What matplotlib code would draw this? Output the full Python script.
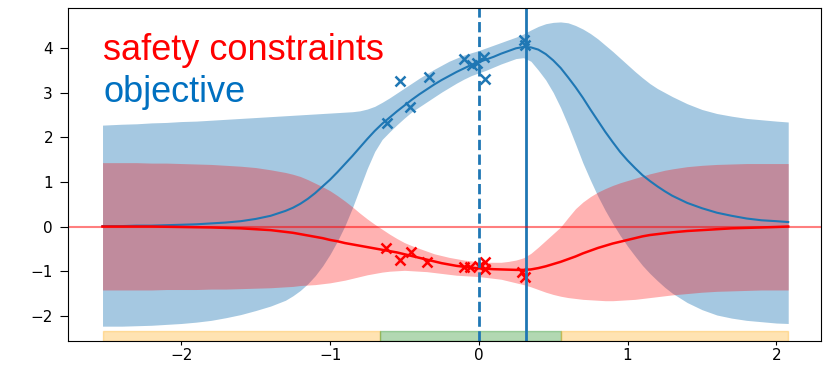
import matplotlib.pyplot as plt

# grid where the GP posteriors were evaluated
x = [-2.53, -2.4, -2.3, -2.2, -2.1, -2.0, -1.9, -1.8, -1.7, -1.6, -1.5, -1.4,
     -1.3, -1.25, -1.2, -1.15, -1.1, -1.05, -1.0, -0.95, -0.9, -0.85,
     -0.8, -0.75, -0.7, -0.65, -0.6, -0.55, -0.5, -0.45, -0.4, -0.35,
     -0.3, -0.25, -0.2, -0.15, -0.1, -0.05, 0.0, 0.05, 0.1, 0.15,
     0.2, 0.25, 0.3, 0.35, 0.4, 0.45, 0.5, 0.55, 0.6, 0.65,
     0.7, 0.75, 0.8, 0.85, 0.9, 0.95, 1.0, 1.05, 1.1, 1.15,
     1.2, 1.25, 1.3, 1.4, 1.5, 1.6, 1.7, 1.8, 1.9, 2.0, 2.08]

# objective posterior (mean and confidence bounds)
obj_mean = [0.01, 0.01, 0.02, 0.02, 0.03, 0.04, 0.05, 0.07, 0.09, 0.12, 0.17, 0.24,
            0.35, 0.42, 0.51, 0.62, 0.75, 0.90, 1.05, 1.22, 1.40, 1.58,
            1.77, 1.96, 2.14, 2.30, 2.44, 2.58, 2.71, 2.84, 2.96, 3.07,
            3.18, 3.28, 3.37, 3.46, 3.54, 3.62, 3.68, 3.74, 3.80, 3.87,
            3.93, 3.99, 4.02, 4.01, 3.96, 3.86, 3.72, 3.55, 3.34, 3.12,
            2.88, 2.62, 2.37, 2.12, 1.89, 1.67, 1.48, 1.31, 1.15, 1.02,
            0.90, 0.79, 0.69, 0.53, 0.41, 0.31, 0.24, 0.18, 0.14, 0.12, 0.10]
obj_upper = [2.27, 2.29, 2.30, 2.32, 2.33, 2.35, 2.36, 2.38, 2.40, 2.42, 2.44, 2.46,
             2.48, 2.49, 2.50, 2.51, 2.52, 2.53, 2.54, 2.55, 2.56, 2.57,
             2.59, 2.63, 2.69, 2.78, 2.88, 2.99, 3.10, 3.21, 3.32, 3.42,
             3.52, 3.61, 3.70, 3.77, 3.84, 3.89, 3.94, 4.00, 4.06, 4.12,
             4.18, 4.24, 4.31, 4.40, 4.48, 4.54, 4.57, 4.58, 4.56, 4.50,
             4.42, 4.32, 4.20, 4.06, 3.92, 3.77, 3.62, 3.47, 3.33, 3.20,
             3.09, 3.00, 2.91, 2.75, 2.62, 2.53, 2.47, 2.42, 2.39, 2.36, 2.34]
obj_lower = [-2.23, -2.23, -2.22, -2.21, -2.19, -2.17, -2.14, -2.10, -2.04, -1.97, -1.88, -1.78,
             -1.65, -1.55, -1.43, -1.28, -1.10, -0.88, -0.62, -0.32, 0.02, 0.42,
             0.86, 1.30, 1.68, 1.95, 2.12, 2.28, 2.43, 2.57, 2.68, 2.79,
             2.90, 3.01, 3.11, 3.21, 3.30, 3.38, 3.44, 3.50, 3.57, 3.64,
             3.70, 3.76, 3.78, 3.70, 3.50, 3.28, 3.00, 2.66, 2.27, 1.85,
             1.42, 1.04, 0.68, 0.36, 0.07, -0.20, -0.44, -0.66, -0.87, -1.05,
             -1.21, -1.36, -1.49, -1.70, -1.86, -1.98, -2.05, -2.10, -2.13, -2.16, -2.17]

# safety constraint posterior
con_mean = [0.0, 0.0, 0.0, 0.0, -0.005, -0.01, -0.015, -0.02, -0.03, -0.04, -0.06, -0.08,
            -0.12, -0.14, -0.17, -0.20, -0.23, -0.26, -0.30, -0.33, -0.37, -0.40,
            -0.43, -0.46, -0.49, -0.52, -0.55, -0.58, -0.62, -0.66, -0.70, -0.74,
            -0.78, -0.82, -0.85, -0.88, -0.90, -0.92, -0.935, -0.945, -0.955, -0.96,
            -0.965, -0.97, -0.97, -0.96, -0.93, -0.89, -0.84, -0.79, -0.73, -0.67,
            -0.60, -0.54, -0.48, -0.43, -0.38, -0.34, -0.30, -0.26, -0.22, -0.19,
            -0.17, -0.15, -0.13, -0.10, -0.08, -0.06, -0.04, -0.03, -0.02, -0.01, 0.0]
con_upper = [1.43, 1.43, 1.43, 1.42, 1.42, 1.41, 1.40, 1.39, 1.37, 1.35, 1.32, 1.27,
             1.21, 1.17, 1.12, 1.05, 0.97, 0.89, 0.80, 0.69, 0.57, 0.44,
             0.30, 0.17, 0.05, -0.06, -0.17, -0.27, -0.36, -0.43, -0.49, -0.55,
             -0.61, -0.65, -0.69, -0.72, -0.75, -0.77, -0.79, -0.80, -0.80, -0.80,
             -0.78, -0.75, -0.70, -0.60, -0.46, -0.31, -0.16, -0.01, 0.20, 0.40,
             0.55, 0.67, 0.77, 0.85, 0.92, 0.98, 1.03, 1.08, 1.13, 1.18,
             1.22, 1.26, 1.29, 1.34, 1.37, 1.39, 1.40, 1.41, 1.41, 1.41, 1.41]
con_lower = [-1.42, -1.42, -1.42, -1.42, -1.41, -1.41, -1.41, -1.40, -1.40, -1.39, -1.38, -1.37,
             -1.35, -1.34, -1.32, -1.31, -1.30, -1.28, -1.26, -1.23, -1.20, -1.16,
             -1.12, -1.08, -1.05, -1.02, -1.00, -0.99, -0.98, -0.99, -1.00, -1.01,
             -1.03, -1.05, -1.07, -1.09, -1.10, -1.11, -1.12, -1.14, -1.16, -1.18,
             -1.22, -1.26, -1.30, -1.35, -1.41, -1.47, -1.52, -1.56, -1.59, -1.61,
             -1.63, -1.64, -1.65, -1.66, -1.66, -1.65, -1.64, -1.63, -1.61, -1.59,
             -1.57, -1.55, -1.53, -1.50, -1.47, -1.45, -1.44, -1.43, -1.42, -1.42, -1.42]

# evaluated points
obj_x = [-0.617, -0.528, -0.46, -0.337, -0.102, -0.046, -0.012, 0.037, 0.044, 0.301, 0.31]
obj_y = [2.31, 3.26, 2.67, 3.34, 3.76, 3.61, 3.66, 3.80, 3.31, 4.17, 4.06]
con_x = [-0.622, -0.532, -0.454, -0.348, -0.102, -0.057, 0.0, 0.044, 0.044, 0.29, 0.31]
con_y = [-0.47, -0.75, -0.58, -0.80, -0.91, -0.91, -0.88, -0.79, -0.94, -1.01, -1.12]

x_current = 0.0    # last sample
x_best = 0.317     # best safe point
safe_lo, safe_hi = -0.667, 0.553   # estimated safe set

ylim = (-2.555, 4.89)
bar_top = -2.34

fig = plt.figure(figsize=(8.36, 3.67), dpi=100)
ax = fig.add_axes([0.0817, 0.0717, 0.9003, 0.9063])

ax.fill_between(x, obj_lower, obj_upper, color='C0', alpha=0.4, lw=0)
ax.fill_between(x, con_lower, con_upper, color='red', alpha=0.3, lw=0)
ax.plot(x, obj_mean, color='C0', lw=1.5)
ax.plot(x, con_mean, color='red', lw=1.8)
ax.plot(obj_x, obj_y, 'x', color='C0', ms=7, mew=1.8)
ax.plot(con_x, con_y, 'x', color='red', ms=7, mew=1.8)

ax.axvline(x_current, color='C0', ls='--', lw=2)
ax.axvline(x_best, color='C0', lw=2)
ax.axhline(0, color='red', alpha=0.5, lw=1.5)

# safe / unsafe strip along the bottom
ax.fill_between([x[0], safe_lo], ylim[0], bar_top, color='orange', alpha=0.3)
ax.fill_between([safe_lo, safe_hi], ylim[0], bar_top, color='green', alpha=0.3)
ax.fill_between([safe_hi, x[-1]], ylim[0], bar_top, color='orange', alpha=0.3)

ax.set_xlim(-2.76, 2.30)
ax.set_ylim(*ylim)
ax.set_xticks([-2, -1, 0, 1, 2])
ax.set_yticks([-2, -1, 0, 1, 2, 3, 4])
ax.tick_params(axis='y', length=6, pad=5, labelsize=11)
ax.tick_params(axis='x', length=3.2, pad=2, labelsize=11)

ax.text(0.0465, 0.8437, 'safety constraints', color='red', fontsize=26,
        family='Liberation Sans', va='baseline', transform=ax.transAxes)
ax.text(0.0465, 0.7184, 'objective', color='#0070C0', fontsize=26,
        family='Liberation Sans', va='baseline', transform=ax.transAxes)

fig.savefig('out.png', dpi=100)
